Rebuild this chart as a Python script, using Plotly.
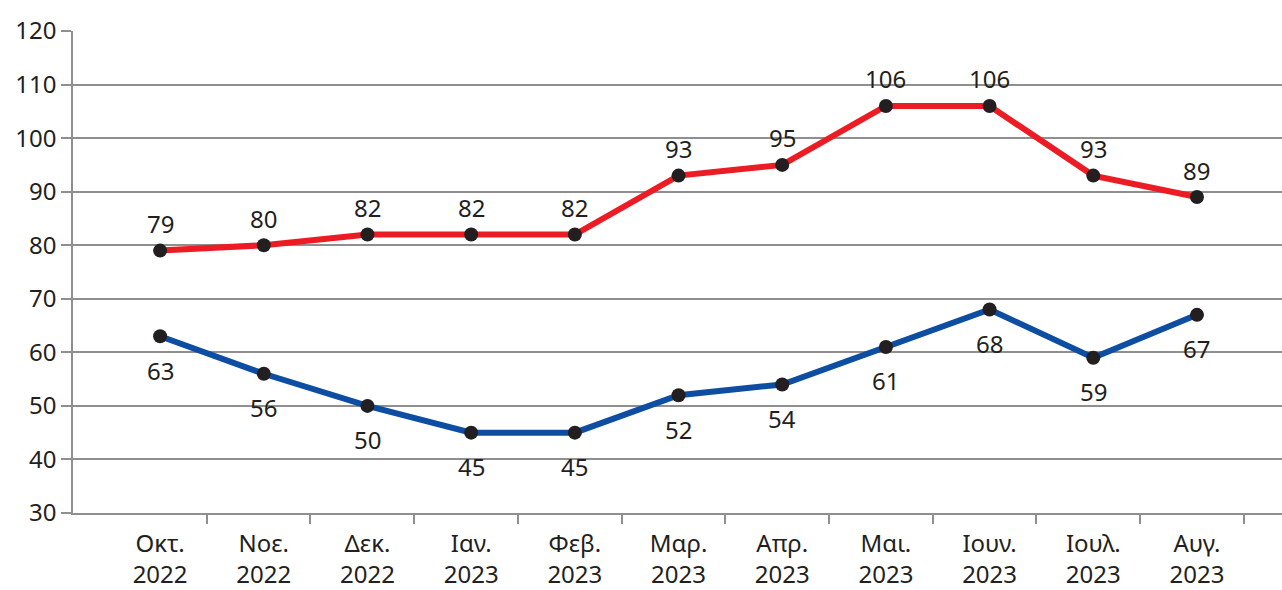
import plotly.graph_objects as go

# Monthly series, October 2022 to August 2023
months = ["Οκτ.<br>2022", "Νοε.<br>2022", "Δεκ.<br>2022", "Ιαν.<br>2023", "Φεβ.<br>2023",
          "Μαρ.<br>2023", "Απρ.<br>2023", "Μαι.<br>2023", "Ιουν.<br>2023", "Ιουλ.<br>2023",
          "Αυγ.<br>2023"]
red_values = [79, 80, 82, 82, 82, 93, 95, 106, 106, 93, 89]
blue_values = [63, 56, 50, 45, 45, 52, 54, 61, 68, 59, 67]
y_ticks = [30, 40, 50, 60, 70, 80, 90, 100, 110, 120]

RED = "#ED1C24"
BLUE = "#0D4EA2"
DOT = "#231F20"
GRID = "#8f8f8f"
FONT = "Noto Sans"

idx = list(range(len(months)))

fig = go.Figure()

for values, color in ((red_values, RED), (blue_values, BLUE)):
    fig.add_trace(go.Scatter(
        x=idx, y=values, mode="lines+markers",
        line=dict(color=color, width=6),
        marker=dict(color=DOT, size=14),
        cliponaxis=False, showlegend=False,
    ))

# value labels: above the red line, below the blue line
for values, shift in ((red_values, 27), (blue_values, -34)):
    for i, v in zip(idx, values):
        fig.add_annotation(x=i, y=v, text=str(v), showarrow=False,
                           yshift=shift, font=dict(family=FONT, size=24, color=DOT))

# invisible trace carrying the boundary tick marks on the overlaid x axis
fig.add_trace(go.Scatter(x=[idx[0]], y=[y_ticks[0]], xaxis="x2", mode="markers",
                         marker=dict(opacity=0), showlegend=False, hoverinfo="skip"))

x_range = [-0.84, 10.82]

fig.update_layout(
    width=1282, height=590,
    margin=dict(l=73, r=0, t=31, b=75),
    plot_bgcolor="white", paper_bgcolor="white",
    font=dict(family=FONT, size=24, color=DOT),
    xaxis=dict(
        range=x_range, tickvals=idx, ticktext=months, ticks="",
        showgrid=False, zeroline=False,
        showline=True, linecolor=GRID, linewidth=1.5,
        tickfont=dict(family=FONT, size=24, color=DOT),
        ticklabelstandoff=8,
    ),
    xaxis2=dict(
        range=x_range, overlaying="x", side="bottom",
        tickvals=[i + 0.45 for i in idx], showticklabels=False,
        ticks="outside", ticklen=10, tickwidth=1.5, tickcolor=GRID,
        showgrid=False, zeroline=False, showline=False,
    ),
    yaxis=dict(
        range=[30, 120], tickvals=y_ticks,
        ticks="outside", ticklen=10, tickwidth=1.5, tickcolor=GRID,
        showgrid=True, gridcolor=GRID, gridwidth=1.5,
        showline=True, linecolor=GRID, linewidth=1.5, zeroline=False,
        tickfont=dict(family=FONT, size=24, color=DOT),
        ticklabelstandoff=0,
    ),
)

fig.write_html("out.html")
